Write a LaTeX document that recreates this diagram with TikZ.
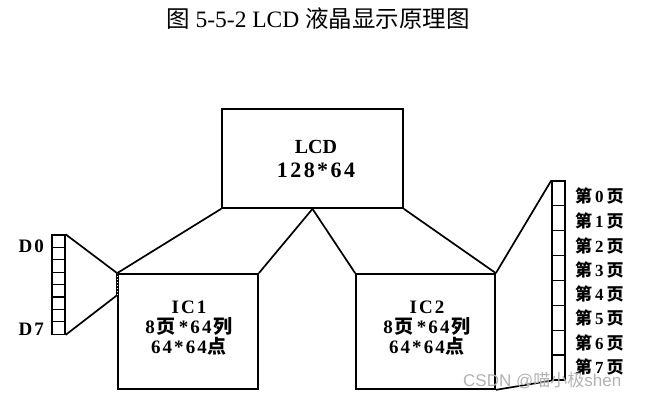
\documentclass[tikz,border=0pt]{standalone}
\usepackage{fontspec}
\usetikzlibrary{calc}
\setmainfont{Liberation Serif}
\newfontfamily\spfont{Liberation Serif}[LetterSpace=11]
\newfontfamily\cjk{Noto Sans CJK SC}
\newfontfamily\wmfont{Liberation Sans}
\newcommand{\cb}[1]{{\cjk\bfseries #1}}
\begin{document}
\begin{tikzpicture}[x=1pt,y=-1pt,
  box/.style={draw,line width=1.7pt,inner sep=0pt},
  cellL/.style={draw,line width=1.3pt,minimum width=13pt,minimum height=12.4pt,inner sep=0pt},
  cellR/.style={draw,line width=1.3pt,minimum width=13pt,minimum height=24.875pt,inner sep=0pt},
  wire/.style={line width=1.7pt},
  lbl/.style={font=\bfseries\fontsize{17}{18}\selectfont,inner sep=0pt},
  dlbl/.style={font=\bfseries\fontsize{19}{20}\selectfont,inner sep=0pt},
  btext/.style={align=center,inner sep=0pt}]
\useasboundingbox (0,0) rectangle (652,400);
% title
\node[inner sep=0pt,font=\fontsize{23.5}{25}\selectfont] (title) at (318,19) {{\cjk 图} 5-5-2 LCD {\cjk 液晶显示原理图}};
% boxes
\node[box,minimum width=181pt,minimum height=99pt] (lcd) at (312.5,158.5) {};
\node[btext,font=\bfseries\fontsize{20}{24}\selectfont] (lcdt) at (316,159) {LCD\\{\spfont\bfseries\fontsize{22}{24}\selectfont 128*64}};
\node[box,minimum width=140pt,minimum height=115pt] (ic1) at (188,331.5) {};
\node[box,minimum width=139pt,minimum height=115pt] (ic2) at (425.5,331.5) {};
\node[btext,font=\spfont\bfseries\fontsize{19}{20}\selectfont] (ic1t) at (189,328) {IC1\\8\kern2pt\cb{页}\kern3pt*64\kern2pt\cb{列}\\64*64\kern1pt\cb{点}};
\node[btext,font=\spfont\bfseries\fontsize{19}{20}\selectfont] (ic2t) at (427,328) {IC2\\8\kern2pt\cb{页}\kern3pt*64\kern2pt\cb{列}\\64*64\kern1pt\cb{点}};
% left column D0-D7
\foreach \i in {0,...,7} {
  \node[cellL] (dl\i) at (58.5,{241.2+12.4*\i}) {};
}
\node[dlbl,anchor=east] (d0) at (44,246) {D\kern2pt 0};
\node[dlbl,anchor=east] (d7) at (44,329) {D\kern2pt 7};
% right column pages
\foreach \i in {0,...,7} {
  \node[cellR] (dr\i) at (558.5,{193.4+24.875*\i}) {};
}
\foreach \i/\y in {0/196,1/221,2/246,3/270,4/294,5/318,6/343,7/367} {
  \node[lbl,anchor=west] (p\i) at (575,\y) {\cb{第}\kern3pt\i\kern3pt\cb{页}};
}
% connector stub on IC1 left edge
\coordinate (s1) at (ic1.north west);
\coordinate (s2) at ($(ic1.north west)+(0,22)$);
\draw[line width=2.2pt] (s1) -- (s2);
\draw[white,line width=0.8pt,dash pattern=on 1pt off 2pt] (s1) -- (s2);
% connectors
\draw[wire] (lcd.south west) -- (ic1.north west);
\draw[wire] (lcd.south) -- (ic1.north east);
\draw[wire] (lcd.south) -- (ic2.north west);
\draw[wire] (lcd.south east) -- (ic2.north east);
\draw[wire] (dl0.north east) -- (s1);
\draw[wire] (dl7.south east) -- (s2);
\draw[wire] (ic2.north east) -- (dr0.north west);
\draw[wire] (ic2.south east) -- (dr7.south west);
% watermark
\node[inner sep=0pt,anchor=west,text=black!30,font=\fontsize{17}{18}\selectfont] (wm) at (463,381) {\wmfont CSDN @{\cjk 喵小极}shen};
\end{tikzpicture}
\end{document}
